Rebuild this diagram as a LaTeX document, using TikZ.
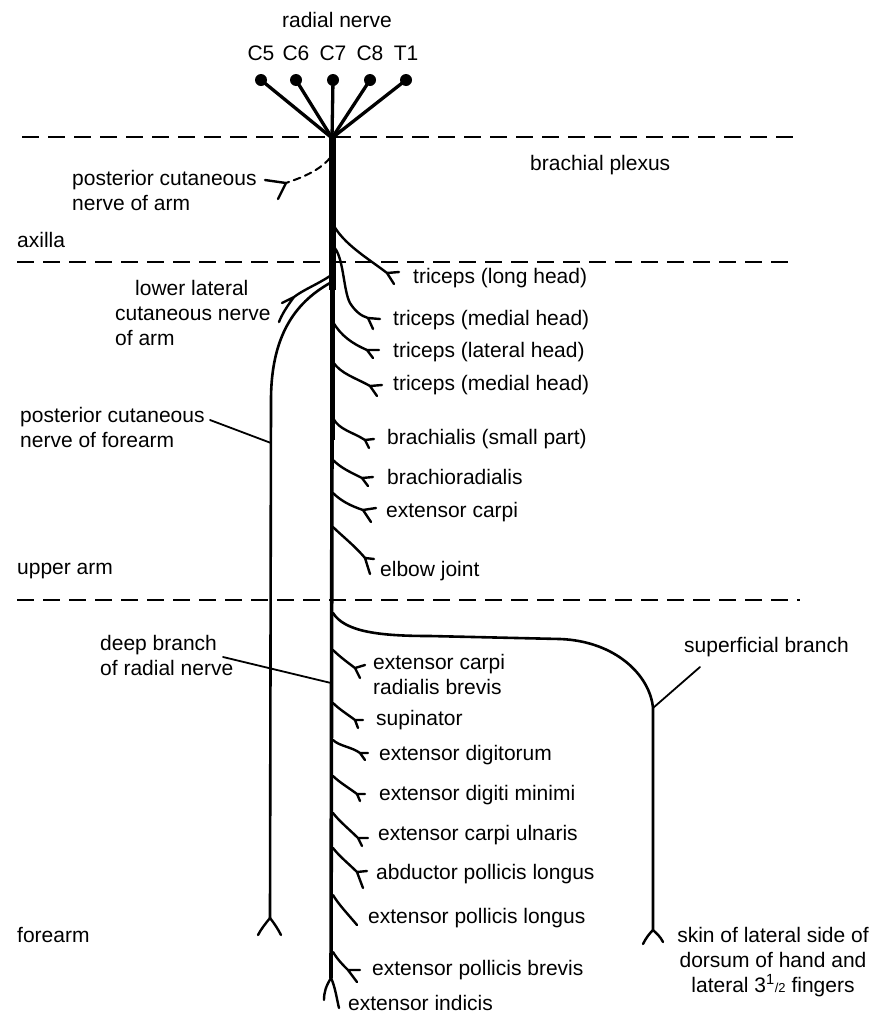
\documentclass[tikz,border=0pt]{standalone}
\usepackage{fontspec}
\setmainfont{Liberation Sans}

\begin{document}
\begin{tikzpicture}[x=1pt,y=-1pt,line cap=round,line join=round,
  every node/.style={font=\fontsize{21}{25}\selectfont,inner sep=0pt},
  lbl/.style={anchor=west,align=left},
  root/.style={circle,fill,minimum size=12pt},
  nerve/.style={line width=2.6pt},
  twig/.style={line width=2.4pt},
  zone/.style={line width=2pt,line cap=butt,dash pattern=on 17pt off 9pt}]
  \useasboundingbox (0,0) rectangle (872,1015);

  % regions
  \draw[zone] (22,137) -- (800,137);
  \draw[zone] (17,262) -- (795,262);
  \draw[zone] (17,600) -- (800,600);
  \node[lbl] (plexus) at (530,165) {brachial plexus};
  \node[lbl] (axilla) at (17,240) {axilla};
  \node[lbl] (upper) at (17,571) {upper arm};
  \node[lbl] (fore) at (17,935) {forearm};

  % roots
  \node (title) at (337,20) {radial nerve};
  \coordinate (hub) at (332,138);
  \foreach \r/\x in {C5/261,C6/296,C7/333,C8/370,T1/406}{
    \node (\r) at (\x,53) {\r};
    \node[root] (d\r) at (\x,80) {};
    \draw[line width=3.3pt] (d\r.center) -- (hub);
  }

  % trunk
  \coordinate (ta) at (332,290);
  \coordinate (tb) at (332,440);
  \coordinate (tend) at (331,978);
  \draw[line width=7pt,line cap=butt] (hub) -- (ta);
  \draw[line width=5pt,line cap=butt] (ta) -- (tb);
  \draw[line width=3.6pt] (tb) -- (tend);
  \draw[twig] (tend) .. controls +(-5,8) and +(0,-8) .. (324,1000);
  \draw[twig] (tend) .. controls +(4,8) and +(-2,-8) .. (339,1008);

  % branch points on the trunk and their forks
  \foreach \i/\sy/\fx/\fy in {1/224/387/273,2/246/368/318,3/322/367/350,
      4/362/370/386,5/418/365/440,6/460/362/478,7/493/363/510,8/527/365/558,
      9/650/355/668,10/703/355/720,11/740/360/753,12/776/357/794,
      13/813/358/838,14/848/357/872,15/895/357/925,16/952/348/970}{
    \coordinate (s\i) at (333,\sy);
    \coordinate (f\i) at (\fx,\fy);
  }
  \draw[twig] (s1) .. controls +(10,20) and +(-18,-14) .. (f1) -- +(12,-1) (f1) -- +(7,11);
  \draw[twig] (s2) .. controls (344,256) and (343,290) .. (350,303)
    .. controls (355,311) and (361,316) .. (f2) -- +(12,1) (f2) -- +(5,11);
  \draw[twig] (s3) .. controls +(8,14) and +(-14,-6) .. (f3) -- +(12,0) (f3) -- +(6,8);
  \draw[twig] (s4) .. controls +(8,12) and +(-14,-8) .. (f4) -- +(12,-1) (f4) -- +(7,10);
  \draw[twig] (s5) .. controls +(6,12) and +(-12,-8) .. (f5) -- +(9,-1) (f5) -- +(4,8);
  \draw[twig] (s6) .. controls +(8,8) and +(-12,-6) .. (f6) -- +(11,-1) (f6) -- +(6,8);
  \draw[twig] (s7) .. controls +(8,8) and +(-12,-4) .. (f7) -- +(13,-2) (f7) -- +(8,12);
  \draw[twig] (s8) .. controls +(8,8) and +(-10,-12) .. (f8) -- +(9,1) (f8) -- +(5,16);
  \draw[twig] (s9) .. controls +(6,6) and +(-8,-6) .. (f9) -- +(10,-3) (f9) -- +(5,10);
  \draw[twig] (s10) .. controls +(6,6) and +(-8,-6) .. (f10) -- +(8,0) (f10) -- +(3,8);
  \draw[twig] (s11) .. controls +(6,6) and +(-8,-6) .. (f11) -- +(8,0) (f11) -- +(5,7);
  \draw[twig] (s12) .. controls +(6,6) and +(-8,-6) .. (f12) -- +(8,0) (f12) -- +(3,7);
  \draw[twig] (s13) .. controls +(6,8) and +(-8,-8) .. (f13) -- +(10,0) (f13) -- +(4,8);
  \draw[twig] (s14) .. controls +(6,8) and +(-8,-8) .. (f14) -- +(10,-1) (f14) -- +(6,16);
  \draw[twig] (s15) .. controls +(6,10) and +(-10,-12) .. (f15);
  \draw[twig] (s16) .. controls +(5,8) and +(-6,-6) .. (f16) -- +(12,0) (f16) -- +(9,12);

  % muscle labels
  \foreach \i/\x/\y/\t in {1/413/278/triceps (long head),2/393/320/triceps (medial head),
      3/393/352/triceps (lateral head),4/393/385/triceps (medial head),
      5/387/439/brachialis (small part),6/387/477/brachioradialis,
      7/386/512/extensor carpi,8/380/571/elbow joint,
      9/373/674/extensor carpi\\radialis brevis,10/376/720/supinator,
      11/379/755/extensor digitorum,12/379/795/extensor digiti minimi,
      13/378/835/extensor carpi ulnaris,14/376/874/abductor pollicis longus,
      15/368/918/extensor pollicis longus,16/372/970/extensor pollicis brevis,
      17/348/1003/extensor indicis}{
    \node[lbl] (m\i) at (\x,\y) {\t};
  }

  % posterior cutaneous nerve of arm
  \coordinate (pa0) at (330,158);
  \coordinate (paf) at (286,183);
  \draw[line width=2pt,dash pattern=on 7pt off 5pt] (pa0) .. controls (318,172) and (300,178) .. (paf);
  \draw[twig] (paf) -- (265,180) (paf) -- (278,199);
  \node[lbl] (pcna) at (72,190.5) {posterior cutaneous\\nerve of arm};

  % lower lateral cutaneous nerve of arm
  \coordinate (ll0) at (330,276);
  \coordinate (llf) at (294,297);
  \draw[twig] (ll0) .. controls (318,284) and (303,290) .. (llf) -- (282,303)
    (llf) .. controls (288,305) and (282,314) .. (279,322);
  \node[lbl] (llcn) at (115,313) {\hspace*{20pt}lower lateral\\cutaneous nerve\\of arm};

  % posterior cutaneous nerve of forearm
  \coordinate (fc0) at (330,283);
  \coordinate (fc1) at (271,400);
  \coordinate (ff) at (270,918);
  \draw[nerve] (fc0) .. controls (300,300) and (271,330) .. (fc1) -- (ff);
  \draw[twig] (ff) .. controls +(-4,5) and +(3,-6) .. +(-12,17)
    (ff) .. controls +(4,5) and +(-3,-6) .. +(11,17);
  \node[lbl] (pcnf) at (20,427) {posterior cutaneous\\nerve of forearm};
  \coordinate (pl) at (210,420);
  \coordinate (pt) at (271,443);
  \draw[line width=1.8pt] (pl) -- (pt);

  % deep branch
  \node[lbl] (deep) at (100,655) {deep branch\\of radial nerve};
  \coordinate (dl) at (223,657);
  \coordinate (dt) at (331,683);
  \draw[line width=1.8pt] (dl) -- (dt);

  % superficial branch
  \coordinate (sb0) at (333,613);
  \coordinate (sj) at (653,708);
  \coordinate (sf) at (653,930);
  \draw[nerve] (sb0) .. controls (345,632) and (380,636) .. (430,636) -- (560,639)
    .. controls (615,641) and (650,675) .. (sj) -- (sf);
  \draw[twig] (sf) .. controls +(-4,4) and +(3,-6) .. +(-10,14)
    (sf) .. controls +(4,4) and +(-3,-6) .. +(10,12);
  \node[lbl] (sup) at (684,647) {superficial branch};
  \coordinate (sl) at (700,667);
  \draw[line width=1.8pt] (sj) -- (sl);
  \node[align=center] (skin) at (773,962) {skin of lateral side of\\dorsum of hand and\\lateral 3\textsuperscript{1}{\fontsize{13}{13}\selectfont/2} fingers};
\end{tikzpicture}
\end{document}
